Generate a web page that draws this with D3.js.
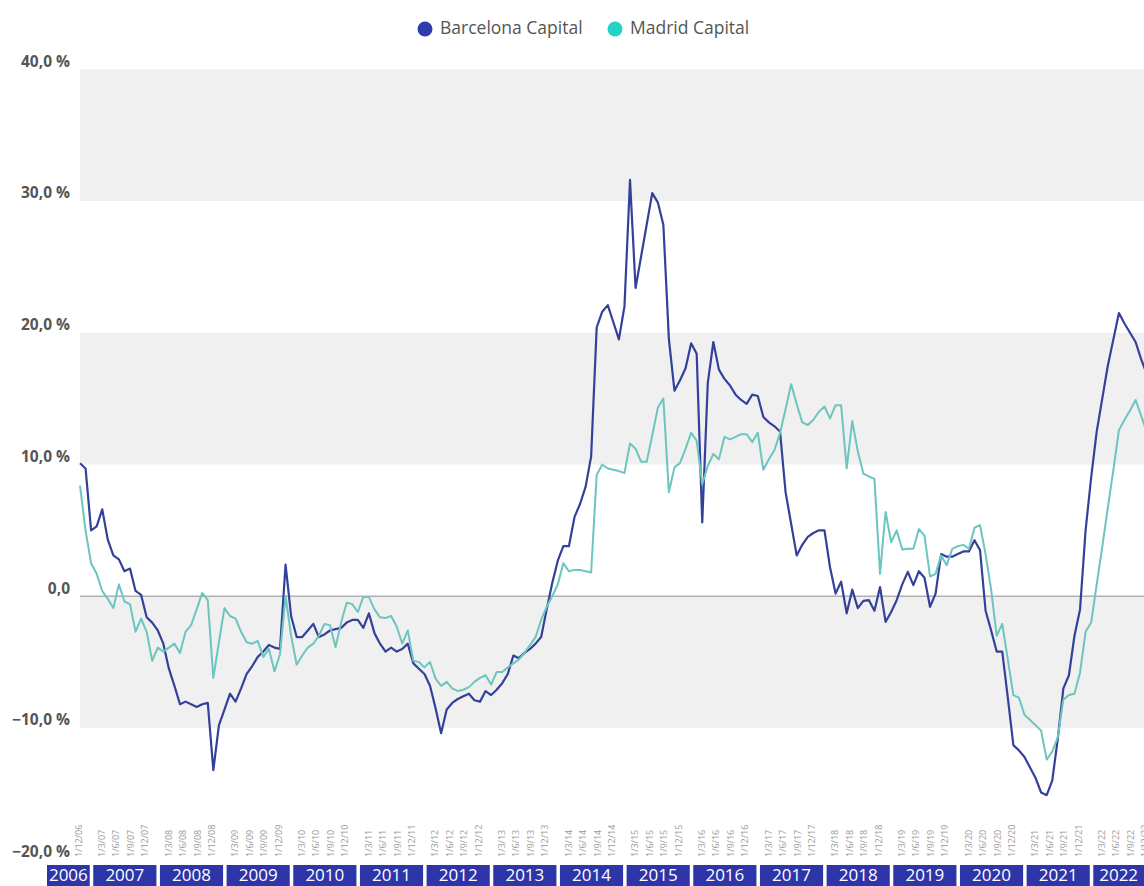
<!DOCTYPE html>
<html>
<head>
<meta charset="utf-8">
<script src="https://cdn.jsdelivr.net/npm/d3@7"></script>
<style>
  body { margin: 0; background: #fff; font-family: "Open Sans", sans-serif; }
</style>
</head>
<body>
<div id="chart"></div>
<script>
// series names and colours
const seriesNames = ["Barcelona Capital", "Madrid Capital"];

// monthly year-on-year change, Dec 2006 .. Dec 2022
const barcelona = [
  10.1, 9.7, 5.0, 5.3, 6.6, 4.3, 3.1, 2.8, 1.9, 2.1, 0.4, 0.1,
  -1.6, -2.0, -2.6, -3.6, -5.5, -6.8, -8.2, -8.0, -8.2, -8.4, -8.2, -8.1,
  -13.2, -9.8, -8.6, -7.4, -8.0, -7.0, -5.9, -5.3, -4.6, -4.2, -3.7, -3.9,
  -4.0, 2.4, -1.5, -3.1, -3.1, -2.6, -2.1, -3.1, -2.9, -2.6, -2.5, -2.4,
  -2.0, -1.8, -1.8, -2.4, -1.3, -2.8, -3.6, -4.2, -3.9, -4.2, -4.0, -3.6,
  -5.1, -5.5, -5.9, -6.8, -8.5, -10.4, -8.6, -8.1, -7.8, -7.6, -7.4, -7.9,
  -8.0, -7.2, -7.5, -7.1, -6.6, -5.9, -4.5, -4.7, -4.3, -4.0, -3.6, -3.1,
  -1.0, 1.0, 2.7, 3.8, 3.8, 6.0, 7.0, 8.3, 10.6, 20.4, 21.6, 22.1,
  20.8, 19.5, 22.0, 31.6, 23.4, 25.8, 28.2, 30.6, 29.9, 28.2, 19.5, 15.6,
  16.4, 17.3, 19.2, 18.4, 5.6, 16.2, 19.3, 17.2, 16.5, 16.0, 15.3, 14.9,
  14.6, 15.3, 15.2, 13.6, 13.2, 12.9, 12.5, 7.9, 5.5, 3.1, 3.9, 4.5,
  4.8, 5.0, 5.0, 2.2, 0.2, 1.1, -1.3, 0.5, -0.9, -0.35, -0.3, -1.1,
  0.7, -1.95, -1.2, -0.3, 0.9, 1.85, 0.84, 1.9, 1.4, -0.8, 0.2, 3.2,
  3.0, 3.0, 3.2, 3.4, 3.4, 4.25, 3.5, -1.1, -2.6, -4.2, -4.2, -7.7,
  -11.3, -11.7, -12.2, -13.0, -13.8, -14.9, -15.1, -14.0, -10.8, -7.0, -6.0, -3.0,
  -1.0, 5.0, 9.0, 12.5, 15.0, 17.5, 19.5, 21.5, 20.7, 20.0, 19.3, 18.0,
  16.9
];

const madrid = [
  8.4, 5.0, 2.5, 1.7, 0.4, -0.2, -0.9, 0.9, -0.4, -0.6, -2.7, -1.7,
  -2.7, -4.9, -3.9, -4.2, -3.9, -3.6, -4.3, -2.7, -2.2, -1.0, 0.25, -0.3,
  -6.2, -3.5, -0.9, -1.5, -1.7, -2.7, -3.5, -3.6, -3.4, -4.6, -4.0, -5.7,
  -4.4, 0.0, -3.0, -5.2, -4.5, -3.9, -3.6, -3.0, -2.1, -2.2, -3.85, -2.0,
  -0.5, -0.6, -1.2, -0.05, -0.05, -1.0, -1.6, -1.65, -1.5, -2.3, -3.6, -2.6,
  -4.9, -5.0, -5.4, -5.0, -6.25, -6.8, -6.5, -7.0, -7.2, -7.1, -6.9, -6.5,
  -6.2, -6.0, -6.7, -5.75, -5.75, -5.4, -5.1, -4.8, -4.3, -3.7, -3.1, -1.8,
  -0.8, 0.0, 0.9, 2.5, 1.9, 2.0, 2.0, 1.9, 1.8, 9.2, 10.0, 9.7,
  9.6, 9.5, 9.35, 11.6, 11.2, 10.2, 10.2, 12.2, 14.3, 15.0, 7.9, 9.8,
  10.1, 11.2, 12.4, 11.8, 8.5, 9.9, 10.8, 10.4, 12.1, 11.9, 12.1, 12.3,
  12.3, 11.7, 12.4, 9.6, 10.4, 11.1, 12.4, 14.2, 16.1, 14.6, 13.2, 13.0,
  13.4, 14.0, 14.4, 13.5, 14.5, 14.5, 9.7, 13.3, 11.0, 9.3, 9.1, 8.9,
  1.7, 6.4, 4.1, 5.0, 3.55, 3.6, 3.6, 5.1, 4.6, 1.5, 1.7, 3.1,
  2.35, 3.6, 3.8, 3.9, 3.6, 5.2, 5.4, 3.2, 0.5, -3.0, -2.1, -4.8,
  -7.5, -7.7, -9.0, -9.4, -9.8, -10.2, -12.4, -11.8, -10.7, -7.85, -7.5, -7.4,
  -5.8, -2.7, -2.0, 0.9, 3.75, 6.7, 9.6, 12.6, 13.4, 14.1, 14.9, 13.7,
  12.5
];

const years = [2006, 2007, 2008, 2009, 2010, 2011, 2012, 2013, 2014,
               2015, 2016, 2017, 2018, 2019, 2020, 2021, 2022];
const quarterMonths = [3, 6, 9, 12];
const yTicks = [40, 30, 20, 10, 0, -10, -20];
const shadedBands = [[30, 40], [10, 20], [-10, 0]];

const width = 1144, height = 886;
const colors = { line: ["#34419a", "#6cc5bf"], dot: ["#2e3ba9", "#22d4c6"] };

const svg = d3.select("#chart").append("svg")
  .attr("width", width)
  .attr("height", height);

// scales: index 0 = 1/12/2006, one step per month
const x = d3.scaleLinear().domain([0, 192]).range([80, 1146.7]);
const y = d3.scaleLinear().domain([-20, 40]).range([859.7, 69.3]);
const monthIndex = (yr, m) => (yr - 2006) * 12 + (m - 12);

// shaded bands
svg.selectAll("rect.band")
  .data(shadedBands)
  .join("rect")
  .attr("class", "band")
  .attr("x", x(0))
  .attr("width", width - x(0))
  .attr("y", d => y(d[1]))
  .attr("height", d => y(d[0]) - y(d[1]))
  .attr("fill", "#f0f0f0");

// zero line
svg.append("line")
  .attr("x1", x(0)).attr("x2", width)
  .attr("y1", y(0)).attr("y2", y(0))
  .attr("stroke", "#b0b0b0")
  .attr("stroke-width", 1.5);

// y axis labels
const yAxis = svg.append("g")
  .attr("transform", "translate(70,0)")
  .call(d3.axisLeft(y).tickValues(yTicks).tickSize(0).tickPadding(0)
    .tickFormat(d => d === 0 ? "0,0" : d3.format(".1f")(d).replace(".", ",") + " %"));
yAxis.select(".domain").remove();
yAxis.selectAll("text")
  .attr("dy", "-0.2em")
  .attr("fill", "#555")
  .style("font-family", "'Open Sans', sans-serif")
  .style("font-size", "15.5px")
  .style("font-weight", "bold");

// lines
const line = d3.line()
  .x((d, i) => x(i))
  .y(d => y(d));

[barcelona, madrid].forEach((vals, k) => {
  svg.append("path")
    .datum(vals)
    .attr("d", line)
    .attr("fill", "none")
    .attr("stroke", colors.line[k])
    .attr("stroke-width", k === 0 ? 2.2 : 2)
    .attr("stroke-linejoin", "round");
});

// year strip
const boxStart = yr => x(monthIndex(yr, 1)) + 7.7;
const boxEnd = yr => boxStart(yr + 1) - 3.5;
const clampX = v => Math.max(47, Math.min(width, v));

const yearG = svg.append("g");
years.forEach(yr => {
  const x0 = clampX(boxStart(yr)), x1 = clampX(boxEnd(yr));
  yearG.append("rect")
    .attr("x", x0).attr("y", 865)
    .attr("width", x1 - x0).attr("height", 25)
    .attr("fill", "#2e35a8");
  yearG.append("text")
    .attr("x", (x0 + x1) / 2).attr("y", 881)
    .attr("text-anchor", "middle")
    .attr("fill", "#fff")
    .style("font-size", "17px")
    .text(yr);
});

// quarter labels, four per year strip
const qScale = d3.scaleLinear().domain([0, 3]).range([8.5, 52]);
const tickG = svg.append("g");
years.forEach(yr => {
  quarterMonths.forEach((m, q) => {
    if (yr === 2006 && m !== 12) return;
    const cx = boxStart(yr) + qScale(q);
    tickG.append("text")
      .attr("transform", `translate(${cx + 3.2},857) rotate(-90)`)
      .attr("text-anchor", "start")
      .attr("fill", "#9a9a9a")
      .style("font-size", "9px")
      .text(`1/${m}/${String(yr).slice(2)}`);
  });
});

// legend
const legend = svg.append("g");
const legendX = [425, 615];
seriesNames.forEach((name, k) => {
  legend.append("circle")
    .attr("cx", legendX[k]).attr("cy", 29)
    .attr("r", 7.5)
    .attr("fill", colors.dot[k]);
  legend.append("text")
    .attr("x", legendX[k] + 15).attr("y", 34)
    .attr("fill", "#555")
    .style("font-size", "17.5px")
    .text(name);
});
</script>
</body>
</html>
